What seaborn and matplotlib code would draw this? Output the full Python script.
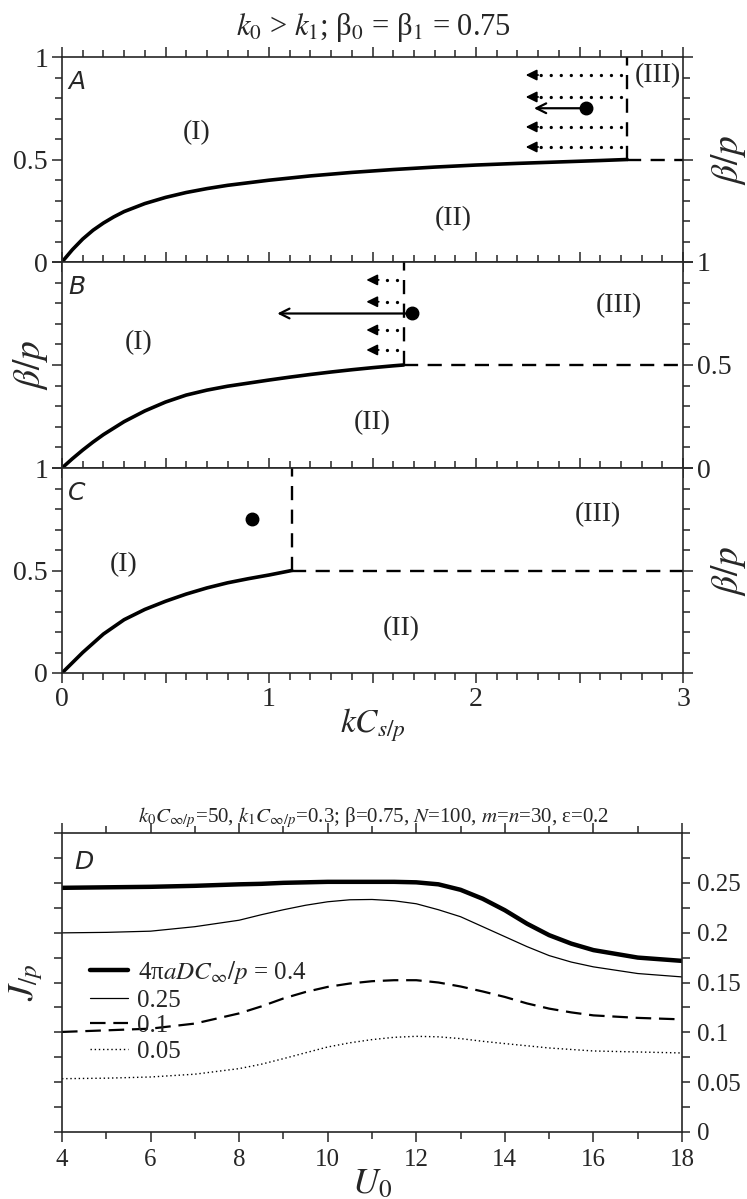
import numpy as np
import pandas as pd
import matplotlib
matplotlib.use("Agg")
import matplotlib.pyplot as plt
from matplotlib.ticker import MultipleLocator, FuncFormatter
import seaborn as sns

# --- donnees des panneaux A, B, C (frontiere de phase) ---
kc_crit = [2.73, 1.65, 1.11]          # abscisse du coin (kC/p) pour A, B, C
curve_A_x = [0, 0.05, 0.1, 0.15, 0.2, 0.25, 0.3, 0.4, 0.5, 0.6, 0.7, 0.8, 1.0,
             1.2, 1.4, 1.6, 1.8, 2.0, 2.2, 2.4, 2.6, 2.73]
curve_A_y = [0, 0.06, 0.112, 0.155, 0.19, 0.22, 0.246, 0.285, 0.315, 0.339, 0.358,
             0.374, 0.399, 0.42, 0.437, 0.451, 0.463, 0.473, 0.481, 0.488, 0.495, 0.5]
curve_B_x = [0, 0.05, 0.1, 0.15, 0.2, 0.3, 0.4, 0.5, 0.6, 0.7, 0.8, 0.9, 1.0,
             1.1, 1.2, 1.3, 1.4, 1.5, 1.6, 1.65]
curve_B_y = [0, 0.045, 0.087, 0.126, 0.162, 0.225, 0.277, 0.32, 0.354, 0.378, 0.397,
             0.412, 0.427, 0.441, 0.454, 0.466, 0.477, 0.487, 0.496, 0.5]
curve_C_x = [0, 0.1, 0.2, 0.3, 0.4, 0.5, 0.6, 0.7, 0.8, 0.9, 1.0, 1.11]
curve_C_y = [0, 0.10, 0.19, 0.26, 0.31, 0.35, 0.385, 0.415, 0.44, 0.46, 0.478, 0.5]

dots_x = [2.53, 1.69, 0.92]
dots_y = [0.75, 0.75, 0.75]
solid_arrow_end = [2.28, 1.04]         # bout de la fleche pleine (A, B)
dotted_y = [[0.912, 0.805, 0.659, 0.561], [0.913, 0.807, 0.670, 0.573]]
dotted_end = [2.24, 1.47]

region_pos = {
    "A": [(0.65, 0.63), (1.89, 0.21), (2.88, 0.91)],
    "B": [(0.37, 0.61), (1.50, 0.22), (2.69, 0.79)],
    "C": [(0.30, 0.53), (1.64, 0.215), (2.59, 0.775)],
}
region_txt = ["(I)", "(II)", "(III)"]

# --- donnees du panneau D ---
U0 = [4, 5, 6, 7, 8, 8.5, 9, 9.5, 10, 10.5, 11, 11.5, 12, 12.5, 13, 13.5,
      14, 14.5, 15, 15.5, 16, 17, 18]
J_040 = [0.245, 0.2455, 0.246, 0.247, 0.2485, 0.249, 0.250, 0.2505, 0.251, 0.251,
         0.251, 0.251, 0.2505, 0.2485, 0.243, 0.234, 0.2225, 0.209, 0.1975, 0.189,
         0.1825, 0.175, 0.1717]
J_025 = [0.1998, 0.2003, 0.2015, 0.206, 0.2125, 0.218, 0.223, 0.2275, 0.231, 0.233,
         0.2333, 0.232, 0.229, 0.223, 0.216, 0.206, 0.196, 0.186, 0.177, 0.1705,
         0.1657, 0.159, 0.1556]
J_010 = [0.1004, 0.102, 0.1037, 0.1088, 0.119, 0.126, 0.134, 0.1405, 0.1456, 0.149,
         0.1513, 0.1523, 0.1523, 0.150, 0.146, 0.141, 0.1355, 0.129, 0.1238, 0.120,
         0.117, 0.1145, 0.113]
J_005 = [0.0535, 0.054, 0.0552, 0.058, 0.0636, 0.068, 0.0736, 0.0795, 0.0853, 0.0895,
         0.0927, 0.095, 0.096, 0.0955, 0.0937, 0.091, 0.0887, 0.0865, 0.0843, 0.0828,
         0.0813, 0.0803, 0.0793]
legend_labels = ["4π$aDC_{\\infty}/p$ = 0.4", "0.25", "0.1", "0.05"]

sns.set_style("ticks")
plt.rcParams["font.family"] = ["Liberation Serif", "DejaVu Serif"]
plt.rcParams["mathtext.fontset"] = "stix"
plt.rcParams["axes.linewidth"] = 1.2
plt.rcParams["xtick.direction"] = "out"
plt.rcParams["ytick.direction"] = "out"

FS = 20
DASH = (0, (6, 4))
fig = plt.figure(figsize=(7.47, 11.99), dpi=100)
W, H = 747, 1199


def box(l, t, r, b):
    return [l / W, 1 - b / H, (r - l) / W, (b - t) / H]


axA = fig.add_axes(box(62, 57, 683, 262))
axB = fig.add_axes(box(62, 262, 683, 468))
axC = fig.add_axes(box(62, 468, 683, 673))
axD = fig.add_axes(box(62, 833, 682, 1132))

int_fmt = FuncFormatter(lambda v, p: "%d" % v if abs(v - round(v)) < 1e-6 else "")
y_fmt = FuncFormatter(lambda v, p: "%g" % v)

curves = [(curve_A_x, curve_A_y), (curve_B_x, curve_B_y), (curve_C_x, curve_C_y)]
for i, (ax, name) in enumerate(zip([axA, axB, axC], "ABC")):
    cx, cy = curves[i]
    sns.lineplot(x=cx, y=cy, ax=ax, color="k", lw=2.6)
    k = kc_crit[i]
    # frontieres en tirets (verticale puis horizontale)
    sns.lineplot(x=[k, k], y=[0.5, 1.0], ax=ax, color="k", lw=1.7,
                 estimator=None, sort=False, linestyle=DASH)
    sns.lineplot(x=[k, 3.0], y=[0.5, 0.5], ax=ax, color="k", lw=1.7,
                 estimator=None, sort=False, linestyle=DASH)
    ax.plot(dots_x[i], dots_y[i], "o", color="k", ms=9)
    if i < 2:
        ax.annotate("", xy=(solid_arrow_end[i], dots_y[i]), xytext=(dots_x[i], dots_y[i]),
                    arrowprops=dict(arrowstyle="->,head_length=0.7,head_width=0.35",
                                    color="k", lw=1.6, shrinkA=0, shrinkB=0))
        for yy in dotted_y[i]:
            ax.plot([k - 0.03, dotted_end[i] + 0.05], [yy, yy], color="k", lw=2.4,
                    linestyle=(0, (0.01, 3.0)), dash_capstyle="round")
            ax.annotate("", xy=(dotted_end[i], yy), xytext=(dotted_end[i] + 0.06, yy),
                        arrowprops=dict(arrowstyle="-|>,head_length=0.65,head_width=0.32",
                                        color="k", lw=1.3, shrinkA=0, shrinkB=0))
    for (tx, ty), t in zip(region_pos[name], region_txt):
        ax.text(tx, ty, t, ha="center", va="center", fontsize=FS)
    ax.text(0.07, 0.88, name, ha="center", va="center", fontsize=18, style="italic",
            family="DejaVu Sans")

    ax.set_xlim(0, 3)
    ax.set_ylim(0, 1)
    ax.xaxis.set_major_locator(MultipleLocator(0.5))
    ax.xaxis.set_minor_locator(MultipleLocator(0.1))
    ax.yaxis.set_major_locator(MultipleLocator(0.5))
    ax.yaxis.set_minor_locator(MultipleLocator(0.1))
    ax.xaxis.set_major_formatter(int_fmt)
    ax.yaxis.set_major_formatter(y_fmt)
    ax.tick_params(which="both", top=True, bottom=True, left=True, right=True,
                   labelsize=FS, width=1.1)
    ax.tick_params(which="major", length=7, pad=3)
    ax.tick_params(which="minor", length=5)
    ax.tick_params(axis="x", labelbottom=(name == "C"))
    if name == "B":
        ax.tick_params(axis="y", labelleft=False, labelright=True)
        ax.set_ylabel(r"$\beta/p$", fontsize=27, labelpad=0)
    else:
        ax.yaxis.set_label_position("right")
        ax.set_ylabel(r"$\beta/p$", fontsize=27, labelpad=12)
    ax.set_xlabel("")

axC.set_xlabel(r"$kC_{s/p}$", fontsize=24, labelpad=-4)

fig.text(0.5, 1 - 27 / H, r"$k_{\mathit{0}}$ > $k_{\mathit{1}}$; β$_0$ = β$_1$ = 0.75",
         ha="center", va="center", fontsize=22)

# --- panneau D ---
df = pd.DataFrame({"U0": U0, "a": J_040, "b": J_025, "c": J_010, "d": J_005})
sns.lineplot(data=df, x="U0", y="a", ax=axD, color="k", lw=3.2, label=legend_labels[0])
sns.lineplot(data=df, x="U0", y="b", ax=axD, color="k", lw=0.9, label=legend_labels[1])
sns.lineplot(data=df, x="U0", y="c", ax=axD, color="k", lw=1.6,
             linestyle=(0, (7, 3.5)), label=legend_labels[2])
sns.lineplot(data=df, x="U0", y="d", ax=axD, color="k", lw=1.0,
             linestyle=(0, (1, 2)), label=legend_labels[3])
axD.set_xlim(4, 18)
axD.set_ylim(0, 0.3)
axD.xaxis.set_major_locator(MultipleLocator(2))
axD.xaxis.set_minor_locator(MultipleLocator(1))
axD.yaxis.set_major_locator(MultipleLocator(0.05))
axD.yaxis.set_minor_locator(MultipleLocator(0.025))
axD.yaxis.set_major_formatter(FuncFormatter(lambda v, p: "%g" % round(v, 3) if v < 0.27 else ""))
axD.tick_params(which="both", top=True, bottom=True, left=True, right=True,
                labelleft=False, labelright=True, labelsize=18, width=1.1)
axD.tick_params(which="major", length=7, pad=5)
axD.tick_params(which="minor", length=5)
axD.tick_params(axis="y", which="both", length=6)
axD.set_xlabel(r"$U_{\mathit{0}}$", fontsize=26, labelpad=-2)
axD.set_ylabel(r"$J_{/p}$", fontsize=26, labelpad=6)
axD.text(4.5, 0.271, "D", ha="center", va="center", fontsize=18, style="italic",
         family="DejaVu Sans")
axD.legend(loc="upper left", bbox_to_anchor=(0.025, 0.62), frameon=False, fontsize=18,
           handlelength=1.5, handletextpad=0.4, labelspacing=0.12, borderpad=0)
fig.text(0.5, 1 - 818 / H,
         r"$k_{\mathit{0}}C_{\infty/p}$=50, $k_{\mathit{1}}C_{\infty/p}$=0.3; β=0.75, $N$=100, $m$=$n$=30, ε=0.2",
         ha="center", va="center", fontsize=15)

fig.savefig("out.png", dpi=100)
